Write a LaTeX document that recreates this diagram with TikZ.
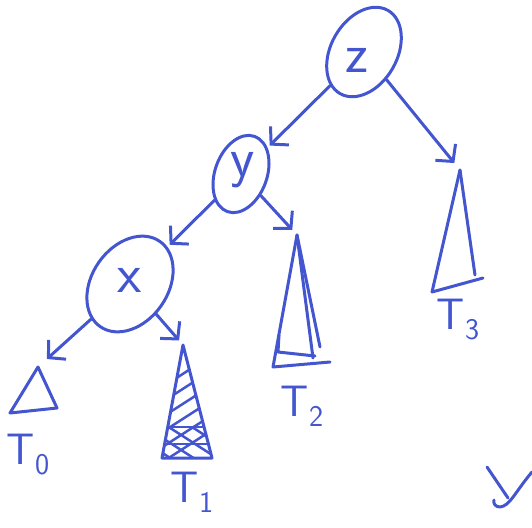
\documentclass[tikz,border=0pt]{standalone}
\usepackage{fontspec}
\usepackage{xcolor}
\usepackage{tikz}
\usetikzlibrary{arrows.meta,shapes.geometric}
\definecolor{pen}{HTML}{4356CF}
\newcommand{\tsub}[2]{#1\raisebox{-10pt}{\fontsize{30}{30}\selectfont #2}}

\begin{document}
\begin{tikzpicture}[x=1pt,y=-1pt,pen,line width=3pt,line cap=round,line join=round,
  font=\sffamily,
  bubble/.style={draw,ellipse,inner sep=0pt},
  letter/.style={font=\fontsize{56}{56}\selectfont\sffamily},
  tname/.style={font=\fontsize{44}{44}\selectfont\sffamily},
  arr/.style={-{Straight Barb[length=12pt,width=26pt]}}]
\useasboundingbox (0,0) rectangle (532,527);
% the three inner nodes
\node[bubble,minimum width=66pt,minimum height=96pt,rotate=-30] (z) at (364,52) {};
\node[bubble,minimum width=52pt,minimum height=80pt,rotate=-20] (y) at (241,174) {};
\node[bubble,minimum width=76pt,minimum height=104pt,rotate=-35] (x) at (130,284) {};
\node[letter] (zl) at (357,60) {z};
\node[letter] (yl) at (243,170) {y};
\node[letter] (xl) at (130,280) {x};
% subtrees
\foreach \n/\ax/\ay in {0/38/367,1/183/345,2/297/235,3/460/170}{
  \coordinate (t\n) at (\ax,\ay);}
\draw (t0) -- (10,413) -- (57,408) -- cycle;
\draw (t1) -- (162,458) -- (212,458) -- cycle;
\draw (t2) -- (273,367) -- (330,362);
\draw (t2) -- (320,347);
\draw (t2) -- (313,358);
\draw (279,335) -- (278,352) -- (315,356);
\draw (t3) -- (432,292) -- (483,278);
\draw (t3) -- (475,275);
% hatching of T1
\begin{scope}[line width=2.5pt]
  \clip (t1) -- (162,458) -- (212,458) -- cycle;
  \foreach \k in {395,410,425,440,455,470}
    \draw (150,\k) -- ++(70,-45);
  \draw (150,427) -- (220,427);
  \draw (150,444) -- (220,444);
  \clip (150,427) rectangle (220,460);
  \foreach \k in {400,415,430,445}
    \draw (150,\k) -- ++(70,45);
\end{scope}
% edges
\draw[arr,shorten >=3pt] (z) -- (y);
\draw[arr,shorten >=3pt] (y) -- (x);
\draw[arr,shorten >=7pt] (y) -- (t2);
\draw[arr,shorten >=12pt] (x) -- (t0);
\draw[arr,shorten >=6pt] (x) -- (t1);
\draw[arr,shorten >=9pt] (z) -- (t3);
% names of the subtrees
\node[tname] (n0) at (28,455) {\tsub{T}{0}};
\node[tname] (n1) at (192,492) {\tsub{T}{1}};
\node[tname] (n2) at (302,406) {\tsub{T}{2}};
\node[tname] (n3) at (458,320) {\tsub{T}{3}};
% tick in the corner
\draw (487,467) -- (508,498);
\draw (532,472) .. controls (515,492) and (510,506) .. (500,507)
  .. controls (495,507) and (493,503) .. (494,500);
\end{tikzpicture}
\end{document}
